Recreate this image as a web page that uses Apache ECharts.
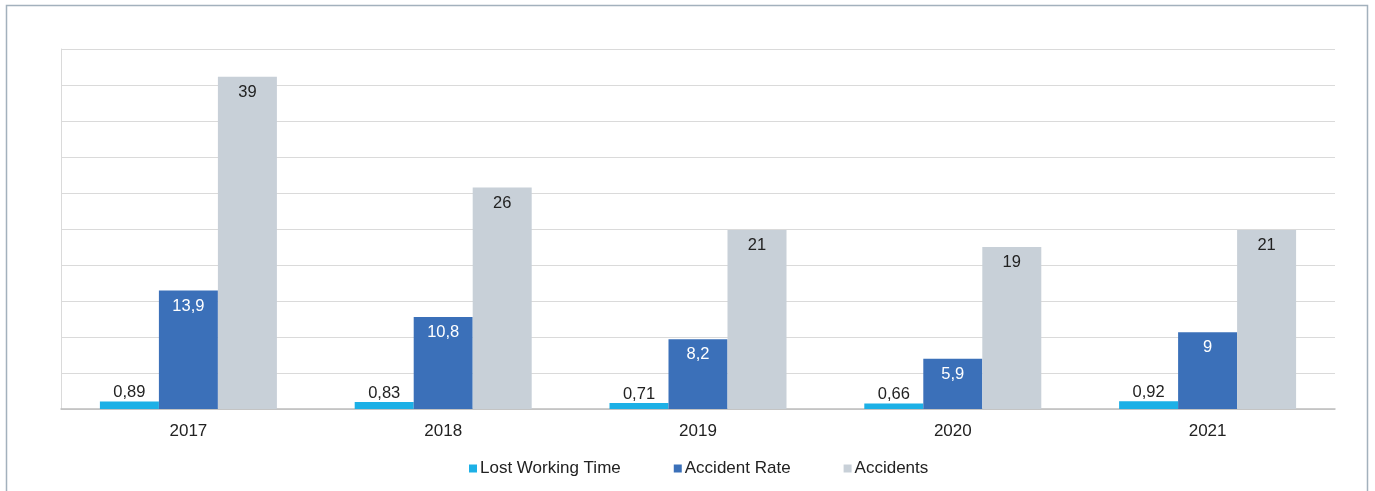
<!DOCTYPE html>
<html>
<head>
<meta charset="utf-8">
<script src="https://cdn.jsdelivr.net/npm/echarts@6/dist/echarts.min.js"></script>
<style>
html,body{margin:0;padding:0;background:#fff;}
#c{width:1375px;height:491px;}
</style>
</head>
<body>
<div id="c"></div>
<script>
var categories = ['2017', '2018', '2019', '2020', '2021'];
var lostWorkingTime = [0.89, 0.83, 0.71, 0.66, 0.92];
var accidentRate = [13.9, 10.8, 8.2, 5.9, 9];
var accidents = [39, 26, 21, 19, 21];
var seriesNames = ['Lost Working Time', 'Accident Rate', 'Accidents'];

function fmt(p) { return String(p.value).replace('.', ','); }

var chart = echarts.init(document.getElementById('c'));
chart.setOption({
  animation: false,
  textStyle: { fontFamily: 'Liberation Sans, Arial, sans-serif' },
  graphic: [{
    type: 'rect',
    shape: { x: 6.5, y: 5.5, width: 1361, height: 520 },
    style: { fill: 'none', stroke: '#a3b1bd', lineWidth: 1.5 },
    silent: true
  }],
  grid: { left: 61, right: 40, top: 49, bottom: 82, containLabel: false },
  legend: {
    data: seriesNames,
    top: 455,
    left: 464,
    itemWidth: 8,
    itemHeight: 8,
    itemGap: 53,
    icon: 'rect',
    textStyle: { fontSize: 17, color: '#222', padding: [0, 0, 0, -2] }
  },
  xAxis: {
    type: 'category',
    data: categories,
    axisTick: { show: false },
    axisLine: { lineStyle: { color: '#bdbdbd', width: 1.5 } },
    axisLabel: { fontSize: 17, color: '#222', margin: 14 }
  },
  yAxis: {
    type: 'value',
    min: 0,
    max: 42.25,
    interval: 4.225,
    axisLabel: { show: false },
    axisLine: { show: true, lineStyle: { color: '#dadada' } },
    splitLine: { lineStyle: { color: '#dadada', width: 1.2 } }
  },
  series: [
    {
      name: seriesNames[0], type: 'bar', data: lostWorkingTime,
      barWidth: 59, barGap: '0%',
      itemStyle: { color: '#1db0e6' },
      label: { show: true, position: 'top', formatter: fmt, fontSize: 16.5, color: '#222', distance: 0 }
    },
    {
      name: seriesNames[1], type: 'bar', data: accidentRate,
      barWidth: 59, barGap: '0%',
      itemStyle: { color: '#3b70b9' },
      label: { show: true, position: 'insideTop', formatter: fmt, fontSize: 16.5, color: '#fff', distance: 7 }
    },
    {
      name: seriesNames[2], type: 'bar', data: accidents,
      barWidth: 59, barGap: '0%',
      itemStyle: { color: '#c8d0d8' },
      label: { show: true, position: 'insideTop', formatter: fmt, fontSize: 16.5, color: '#222', distance: 7 }
    }
  ]
});
</script>
</body>
</html>
